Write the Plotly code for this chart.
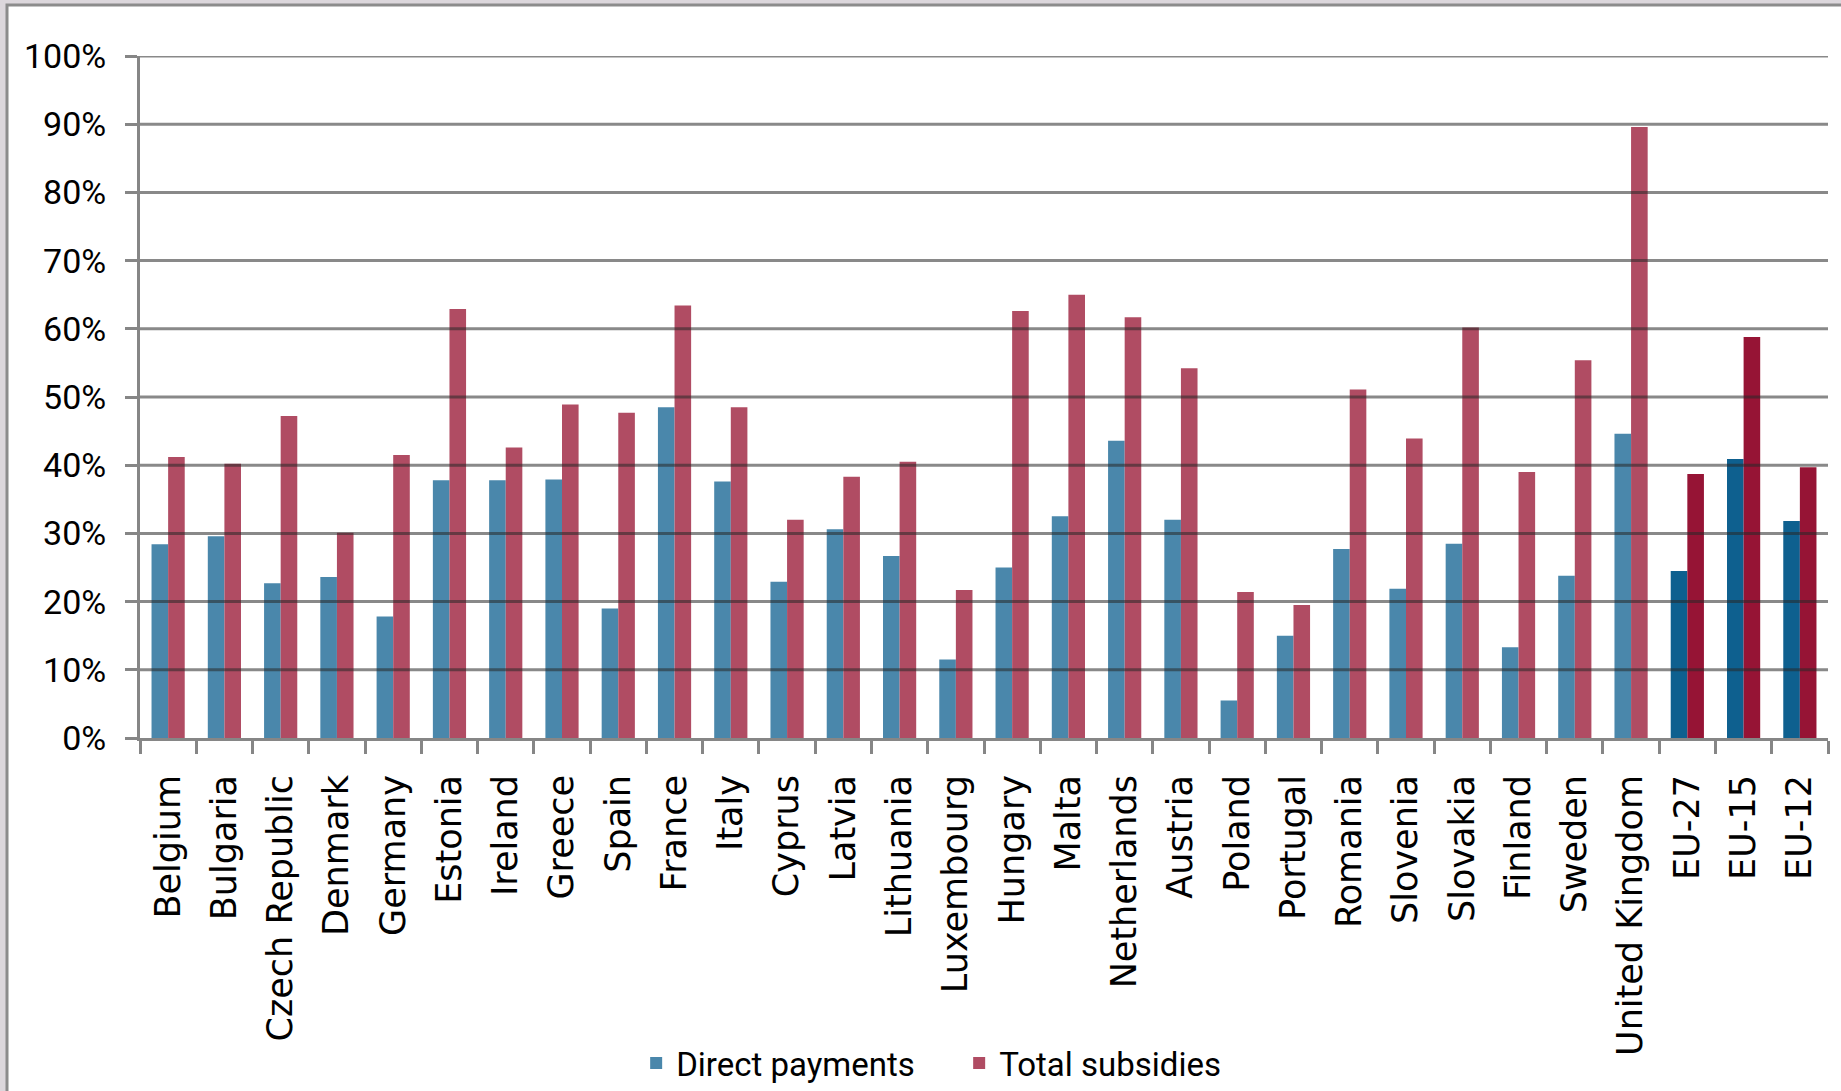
import plotly.graph_objects as go

categories = ["Belgium", "Bulgaria", "Czech Republic", "Denmark", "Germany", "Estonia",
              "Ireland", "Greece", "Spain", "France", "Italy", "Cyprus", "Latvia",
              "Lithuania", "Luxembourg", "Hungary", "Malta", "Netherlands", "Austria",
              "Poland", "Portugal", "Romania", "Slovenia", "Slovakia", "Finland",
              "Sweden", "United Kingdom", "EU-27", "EU-15", "EU-12"]
direct_payments = [28.4, 29.6, 22.7, 23.6, 17.8, 37.8, 37.8, 37.9, 19.0, 48.5, 37.6, 22.9, 30.6,
                   26.7, 11.5, 25.0, 32.5, 43.6, 32.0, 5.5, 15.0, 27.7, 21.9, 28.5, 13.3,
                   23.8, 44.6, 24.5, 40.9, 31.8]
total_subsidies = [41.2, 40.2, 47.2, 30.1, 41.5, 62.9, 42.6, 48.9, 47.7, 63.4, 48.5, 32.0, 38.3,
                   40.5, 21.7, 62.6, 65.0, 61.7, 54.2, 21.4, 19.5, 51.1, 43.9, 60.2, 39.0,
                   55.4, 89.6, 38.7, 58.8, 39.7]
aggregates = ["EU-27", "EU-15", "EU-12"]
y_ticks = [0, 10, 20, 30, 40, 50, 60, 70, 80, 90, 100]

BLUE, BLUE_DARK = "#4A87AB", "#0E608F"
RED, RED_DARK = "#B04C63", "#961435"
GRID = "rgba(40,40,40,0.55)"
TICK_FONT = "Roboto, Liberation Sans, Arial, sans-serif"
CAT_FONT = "DejaVu Sans, Verdana, sans-serif"

blue_cols = [BLUE_DARK if c in aggregates else BLUE for c in categories]
red_cols = [RED_DARK if c in aggregates else RED for c in categories]

fig = go.Figure()
fig.add_trace(go.Bar(name="Direct payments", x=categories, y=direct_payments,
                     marker=dict(color=blue_cols, line=dict(width=0))))
fig.add_trace(go.Bar(name="Total subsidies", x=categories, y=total_subsidies,
                     marker=dict(color=red_cols, line=dict(width=0))))

W, H = 1841, 1091
L, R, T, B = 140, 13, 56, 353
pw, ph = W - L - R, H - T - B

shapes = []
# outer frame (cropped screenshot of a framed chart)
shapes.append(dict(type="rect", xref="paper", yref="paper", layer="below",
                   x0=(7 - L) / pw, x1=(W + 20 - L) / pw,
                   y0=-(H + 20 - T - ph) / ph, y1=(H - 5 - B) / ph,
                   line=dict(color="#8C8C8C", width=3), fillcolor="white"))
# gridlines above bars (as in the original, bars show the lines through them)
for v in y_ticks[1:]:
    shapes.append(dict(type="line", xref="paper", yref="y", layer="above",
                       x0=0, x1=1, y0=v, y1=v, line=dict(color=GRID, width=3)))

fig.update_layout(
    width=W, height=H,
    margin=dict(l=L, r=R, t=T, b=B, autoexpand=False),
    paper_bgcolor="#DCD7DC",
    plot_bgcolor="rgba(0,0,0,0)",
    barmode="group", bargap=0.41, bargroupgap=0,
    shapes=shapes,
    showlegend=True,
    legend=dict(orientation="h", xref="container", yref="container",
                x=0.521, xanchor="center", y=1 - 1063 / H, yanchor="middle",
                font=dict(family=TICK_FONT, size=33, color="black"),
                bgcolor="rgba(0,0,0,0)", entrywidth=278, entrywidthmode="pixels",
                itemwidth=30, traceorder="normal"),
    hovermode=False,
)
fig.update_yaxes(range=[0, 100], tickvals=y_ticks, ticktext=[f"{v}%" for v in y_ticks],
                 showgrid=False, zeroline=False, automargin=False,
                 showline=True, linecolor="#868686", linewidth=3,
                 ticks="outside", ticklen=12, tickwidth=3, tickcolor="#868686",
                 ticklabelstandoff=12,
                 tickfont=dict(family=TICK_FONT, size=34, color="black"))
fig.update_xaxes(showgrid=False, showline=True, linecolor="#868686", linewidth=3,
                 automargin=False,
                 ticks="outside", tickson="boundaries", ticklen=13, tickwidth=3,
                 tickcolor="#868686", tickangle=-90, ticklabelstandoff=20,
                 tickfont=dict(family=CAT_FONT, size=35, color="black"))

fig.write_html("out.html", config={"displayModeBar": False},
               post_script="document.body.style.margin='0';")
